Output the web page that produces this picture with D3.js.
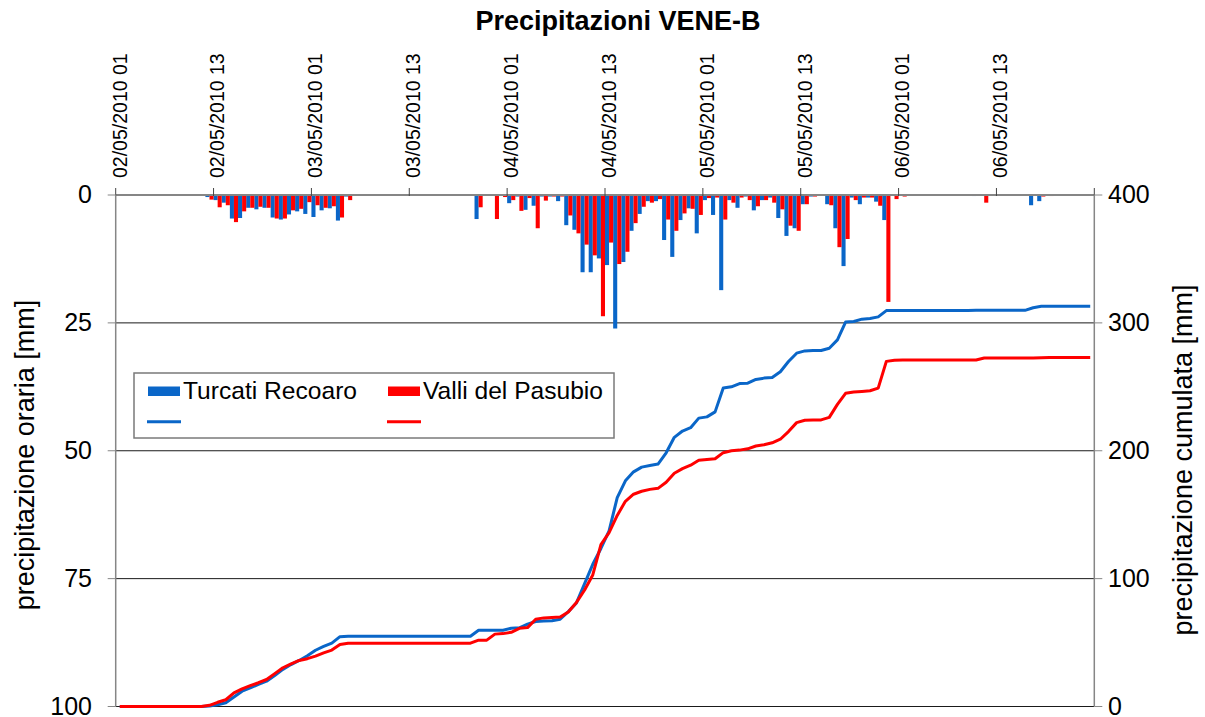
<!DOCTYPE html>
<html>
<head>
<meta charset="utf-8">
<script src="https://cdn.jsdelivr.net/npm/d3@7"></script>
<style>
    body { margin: 0; background: #fff; }
    svg { display: block; font-family: "Liberation Sans", Arial, sans-serif; }
</style>
</head>
<body>
<div id="chart"></div>
<script>
// hourly rain [mm], one value per hour from 02/05/2010 01 (12 values per row)
const turcatiRecoaro = [
    0, 0, 0, 0, 0, 0, 0, 0, 0, 0, 0, 0.4,
    1.0, 1.5, 4.6, 4.5, 2.5, 2.8, 2.5, 4.4, 4.8, 3.8, 3.2, 3.7,
    4.3, 3.0, 2.6, 5.0, 0.3, 0, 0, 0, 0, 0, 0, 0,
    0, 0, 0, 0, 0, 0, 0, 0, 4.7, 0, 0, 0,
    1.6, 0.3, 2.9, 2.1, 0.3, 0.3, 1.2, 5.9, 6.8, 15.1, 15.1, 12.4,
    13.7, 26.1, 13.1, 7.0, 3.7, 1.2, 1.2, 8.8, 12.1, 4.9, 2.6, 7.5,
    1.0, 3.9, 18.6, 1.0, 2.5, 0.3, 3.0, 1.0, 0.5, 4.5, 8.0, 6.5,
    1.8, 0.3, 0, 1.8, 6.5, 13.9, 0.5, 1.8, 0.5, 1.3, 4.9, 0,
    0, 0, 0, 0, 0, 0, 0, 0, 0, 0.2, 0, 0,
    0, 0, 0, 0, 2.0, 1.2, 0, 0, 0, 0, 0, 0
];
const valliPasubio = [
    0, 0, 0, 0, 0, 0, 0, 0, 0, 0, 0, 0.9,
    2.4, 2.0, 5.3, 3.2, 2.5, 2.3, 2.5, 4.6, 4.6, 3.0, 2.7, 1.4,
    2.0, 2.5, 2.2, 4.4, 1.0, 0, 0, 0, 0, 0, 0, 0,
    0, 0, 0, 0, 0, 0, 0, 0, 2.4, 0, 4.7, 0.4,
    1.0, 3.1, 0.6, 6.5, 1.1, 0.3, 0.3, 4.0, 7.5, 9.7, 11.8, 23.7,
    9.3, 13.5, 11.1, 5.5, 2.3, 1.5, 0.8, 4.8, 7.0, 3.6, 2.7, 3.9,
    0.6, 0.5, 4.8, 1.5, 0.5, 1.0, 2.2, 1.0, 1.5, 2.8, 6.0, 7.0,
    1.8, 0.3, 0, 2.0, 10.2, 8.6, 1.0, 0.5, 0.5, 2.1, 20.9, 0.8,
    0.3, 0, 0, 0, 0, 0, 0, 0, 0, 0, 1.5, 0,
    0, 0, 0, 0, 0, 0.3, 0.2, 0, 0, 0, 0, 0
];
const tickLabels = [
    "02/05/2010 01", "02/05/2010 13", "03/05/2010 01", "03/05/2010 13",
    "04/05/2010 01", "04/05/2010 13", "05/05/2010 01", "05/05/2010 13",
    "06/05/2010 01", "06/05/2010 13"
];
const seriesNames = ["Turcati Recoaro", "Valli del Pasubio"];
const hourlyTicks = [0, 25, 50, 75, 100];
const cumulTicks = [0, 100, 200, 300, 400];

const colors = ["#0a66c8", "#ff0000"];
const width = 1205;
const height = 717;
const plotLeft = 115.7, plotRight = 1094.3, plotTop = 195, plotBottom = 706.5;
const labelEvery = 12;

const hours = d3.range(turcatiRecoaro.length);
const series = [turcatiRecoaro, valliPasubio];
// running totals for the right axis
const cumulated = series.map((s) => Array.from(d3.cumsum(s)));

const svg = d3
    .select("#chart")
    .append("svg")
    .attr("width", width)
    .attr("height", height);

svg.append("rect").attr("width", width).attr("height", height).attr("fill", "#fff");

const x = d3.scaleBand().domain(hours).range([plotLeft, plotRight]).padding(0);
const xInner = d3.scaleBand().domain([0, 1]).range([0, x.bandwidth()]).padding(0);
// hourly axis grows downward from the top
const yHourly = d3.scaleLinear().domain([0, 100]).range([plotTop, plotBottom]);
const yCumul = d3.scaleLinear().domain([0, 400]).range([plotBottom, plotTop]);

// horizontal gridlines
svg.append("g")
    .selectAll("line")
    .data(hourlyTicks.slice(1))
    .enter()
    .append("line")
    .attr("x1", plotLeft)
    .attr("x2", plotRight)
    .attr("y1", (d) => yHourly(d))
    .attr("y2", (d) => yHourly(d))
    .attr("stroke", "#1a1a1a")
    .attr("stroke-width", 1);

// hanging bars
series.forEach((s, k) => {
    svg.append("g")
        .selectAll("rect")
        .data(s)
        .enter()
        .append("rect")
        .attr("x", (d, i) => x(i) + xInner(k))
        .attr("y", yHourly(0))
        .attr("width", xInner.bandwidth())
        .attr("height", (d) => yHourly(d) - yHourly(0))
        .attr("fill", colors[k]);
});

// cumulated lines
const line = d3
    .line()
    .x((d, i) => x(i) + x.bandwidth() / 2)
    .y((d) => yCumul(d));

cumulated.forEach((c, k) => {
    svg.append("path")
        .datum(c)
        .attr("d", line)
        .attr("fill", "none")
        .attr("stroke", colors[k])
        .attr("stroke-width", 3)
        .attr("stroke-linejoin", "round");
});

// top category axis
const axisColor = "#868686";
svg.append("line")
    .attr("x1", plotLeft).attr("x2", plotRight)
    .attr("y1", plotTop).attr("y2", plotTop)
    .attr("stroke", axisColor)
    .attr("stroke-width", 2);

const tickPos = hours.filter((h) => h % labelEvery === 0).map((h) => x(h)).concat([plotRight]);
svg.append("g")
    .selectAll("line")
    .data(tickPos)
    .enter()
    .append("line")
    .attr("x1", (d) => d).attr("x2", (d) => d)
    .attr("y1", plotTop - 7).attr("y2", plotTop + 1)
    .attr("stroke", "#444")
    .attr("stroke-width", 1);

svg.append("g")
    .selectAll("text")
    .data(tickLabels)
    .enter()
    .append("text")
    .attr("transform", (d, i) => `translate(${x(i * labelEvery) + x.bandwidth() / 2}, 178) rotate(-90)`)
    .attr("dy", "0.35em")
    .attr("text-anchor", "start")
    .style("font-size", "19.5px")
    .attr("fill", "#000")
    .text((d) => d);

// left and right value axes
[plotLeft, plotRight].forEach((xp) => {
    svg.append("line")
        .attr("x1", xp).attr("x2", xp)
        .attr("y1", plotTop).attr("y2", plotBottom)
        .attr("stroke", axisColor)
        .attr("stroke-width", 1.5);
});

svg.append("g")
    .selectAll("line")
    .data(hourlyTicks)
    .enter()
    .append("line")
    .attr("x1", plotLeft - 8).attr("x2", plotLeft)
    .attr("y1", (d) => yHourly(d)).attr("y2", (d) => yHourly(d))
    .attr("stroke", axisColor);

svg.append("g")
    .selectAll("text")
    .data(hourlyTicks)
    .enter()
    .append("text")
    .attr("x", 92)
    .attr("y", (d) => yHourly(d))
    .attr("dy", "0.33em")
    .attr("text-anchor", "end")
    .style("font-size", "25px")
    .text((d) => d);

svg.append("g")
    .selectAll("line")
    .data(cumulTicks)
    .enter()
    .append("line")
    .attr("x1", plotRight).attr("x2", plotRight + 8)
    .attr("y1", (d) => yCumul(d)).attr("y2", (d) => yCumul(d))
    .attr("stroke", axisColor);

svg.append("g")
    .selectAll("text")
    .data(cumulTicks)
    .enter()
    .append("text")
    .attr("x", 1108)
    .attr("y", (d) => yCumul(d))
    .attr("dy", "0.33em")
    .attr("text-anchor", "start")
    .style("font-size", "25px")
    .text((d) => d);

// titles
svg.append("text")
    .attr("x", 618)
    .attr("y", 30)
    .attr("text-anchor", "middle")
    .style("font-size", "27px")
    .style("font-weight", "bold")
    .text("Precipitazioni VENE-B");

svg.append("text")
    .attr("transform", "translate(25, 455) rotate(-90)")
    .attr("dy", "0.35em")
    .attr("text-anchor", "middle")
    .style("font-size", "27px")
    .text("precipitazione oraria [mm]");

svg.append("text")
    .attr("transform", "translate(1183, 460) rotate(-90)")
    .attr("dy", "0.35em")
    .attr("text-anchor", "middle")
    .style("font-size", "27px")
    .text("precipitazione cumulata [mm]");

// legend
const legend = svg.append("g");
legend.append("rect")
    .attr("x", 134).attr("y", 373)
    .attr("width", 480).attr("height", 65)
    .attr("fill", "#fff")
    .attr("stroke", "#7a7a7a")
    .attr("stroke-width", 1.5);

const legendX = [148, 388];
seriesNames.forEach((name, k) => {
    legend.append("rect")
        .attr("x", legendX[k]).attr("y", 386.5)
        .attr("width", 32).attr("height", 9.5)
        .attr("fill", colors[k]);
    legend.append("text")
        .attr("x", legendX[k] + 35)
        .attr("y", 398.5)
        .style("font-size", "24.6px")
        .text(name);
    legend.append("line")
        .attr("x1", legendX[k] - 1).attr("x2", legendX[k] + 33)
        .attr("y1", 421.7).attr("y2", 421.7)
        .attr("stroke", colors[k])
        .attr("stroke-width", 3);
});
</script>
</body>
</html>
